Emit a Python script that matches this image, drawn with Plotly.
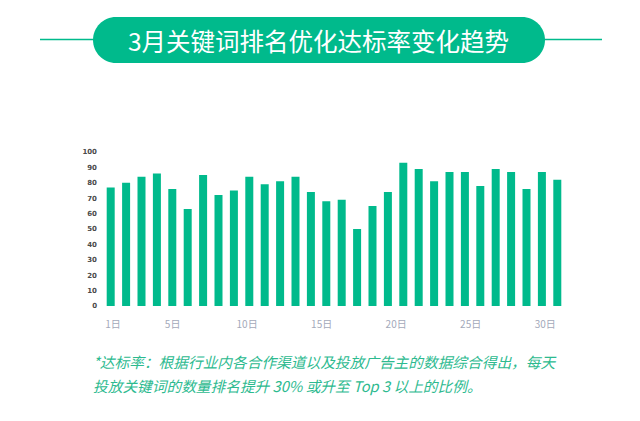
import plotly.graph_objects as go

days = list(range(1, 31))
rates = [77, 80, 84, 86, 76, 63, 85, 72, 75, 84, 79, 81, 84, 74, 68,
         69, 50, 65, 74, 93, 89, 81, 87, 87, 78, 89, 87, 76, 87, 82]
tick_days = [1, 5, 10, 15, 20, 25, 30]
tick_labels = ["1日", "5日", "10日", "15日", "20日", "25日", "30日"]
y_ticks = list(range(0, 101, 10))

title_text = "3月关键词排名优化达标率变化趋势"
note_line1 = "*达标率：根据行业内各合作渠道以及投放广告主的数据综合得出，每天"
note_line2 = "投放关键词的数量排名提升 30% 或升至 Top 3 以上的比例。"

W, H = 640, 421
L, R, T, B = 103, 75, 152, 115
PW, PH = W - L - R, H - T - B
GREEN = "#00BA8C"
CJK = "Noto Sans CJK SC"


def px(x):
    return (x - L) / PW


def py(y):
    return (H - B - y) / PH


fig = go.Figure()
fig.add_trace(go.Bar(x=days, y=rates, marker=dict(color=GREEN, line=dict(width=0)),
                     width=0.52, hoverinfo="x+y"))
fig.add_trace(go.Scatter(x=[tick_days[0]], y=[0], xaxis="x2", mode="markers",
                         marker=dict(opacity=0), hoverinfo="skip", showlegend=False))

# pill path
x0, x1, y0, y1 = 93, 545, 17, 63
r = (y1 - y0) / 2
k = 0.5523 * r
cy = (y0 + y1) / 2
path = (
    f"M {px(x0 + r)} {py(y0)} L {px(x1 - r)} {py(y0)} "
    f"C {px(x1 - r + k)} {py(y0)} {px(x1)} {py(cy - k)} {px(x1)} {py(cy)} "
    f"C {px(x1)} {py(cy + k)} {px(x1 - r + k)} {py(y1)} {px(x1 - r)} {py(y1)} "
    f"L {px(x0 + r)} {py(y1)} "
    f"C {px(x0 + r - k)} {py(y1)} {px(x0)} {py(cy + k)} {px(x0)} {py(cy)} "
    f"C {px(x0)} {py(cy - k)} {px(x0 + r - k)} {py(y0)} {px(x0 + r)} {py(y0)} Z"
)
shapes = [
    dict(type="line", xref="paper", yref="paper", x0=px(40), x1=px(x0 + 2),
         y0=py(39.5), y1=py(39.5), line=dict(color=GREEN, width=1.6)),
    dict(type="line", xref="paper", yref="paper", x0=px(x1 - 2), x1=px(602),
         y0=py(39.5), y1=py(39.5), line=dict(color=GREEN, width=1.6)),
    dict(type="path", xref="paper", yref="paper", path=path,
         fillcolor=GREEN, line=dict(width=0)),
]

annotations = [
    dict(text=title_text, x=px(318), y=py(40), xref="paper", yref="paper",
         showarrow=False, xanchor="center", yanchor="middle",
         font=dict(family=CJK, size=24.5, color="white", weight=400)),
    dict(text=f"<i>{note_line1}</i>", x=px(91), y=py(361), xref="paper", yref="paper",
         showarrow=False, xanchor="left", yanchor="middle",
         font=dict(family=CJK, size=14.7, color="#2DBA8F")),
    dict(text=f"<i>{note_line2}</i>", x=px(91), y=py(385), xref="paper", yref="paper",
         showarrow=False, xanchor="left", yanchor="middle",
         font=dict(family=CJK, size=14.7, color="#2DBA8F")),
]

fig.update_layout(
    width=W, height=H,
    margin=dict(l=L, r=R, t=T, b=B, pad=0),
    paper_bgcolor="white", plot_bgcolor="white",
    showlegend=False,
    shapes=shapes, annotations=annotations,
    xaxis=dict(range=[0.5, 30.5], showticklabels=False, showgrid=False,
               zeroline=False, showline=False, ticks=""),
    xaxis2=dict(overlaying="x", side="bottom", range=[0.329, 31.33],
                tickmode="array", tickvals=tick_days, ticktext=tick_labels,
                showgrid=False, zeroline=False, showline=False, ticks="",
                ticklabelstandoff=11,
                tickfont=dict(family=CJK, size=10, color="#A3A9BA")),
    yaxis=dict(range=[0, 100], tickmode="array", tickvals=y_ticks,
               showgrid=False, zeroline=False, showline=False, ticks="",
               ticklabelstandoff=5,
               tickfont=dict(family="DejaVu Sans", size=7, color="#4A4A4A", weight=700)),
    font=dict(family=CJK),
)

fig.write_html("out.html", config={"displayModeBar": False},
               post_script="document.body.style.margin='0';")
